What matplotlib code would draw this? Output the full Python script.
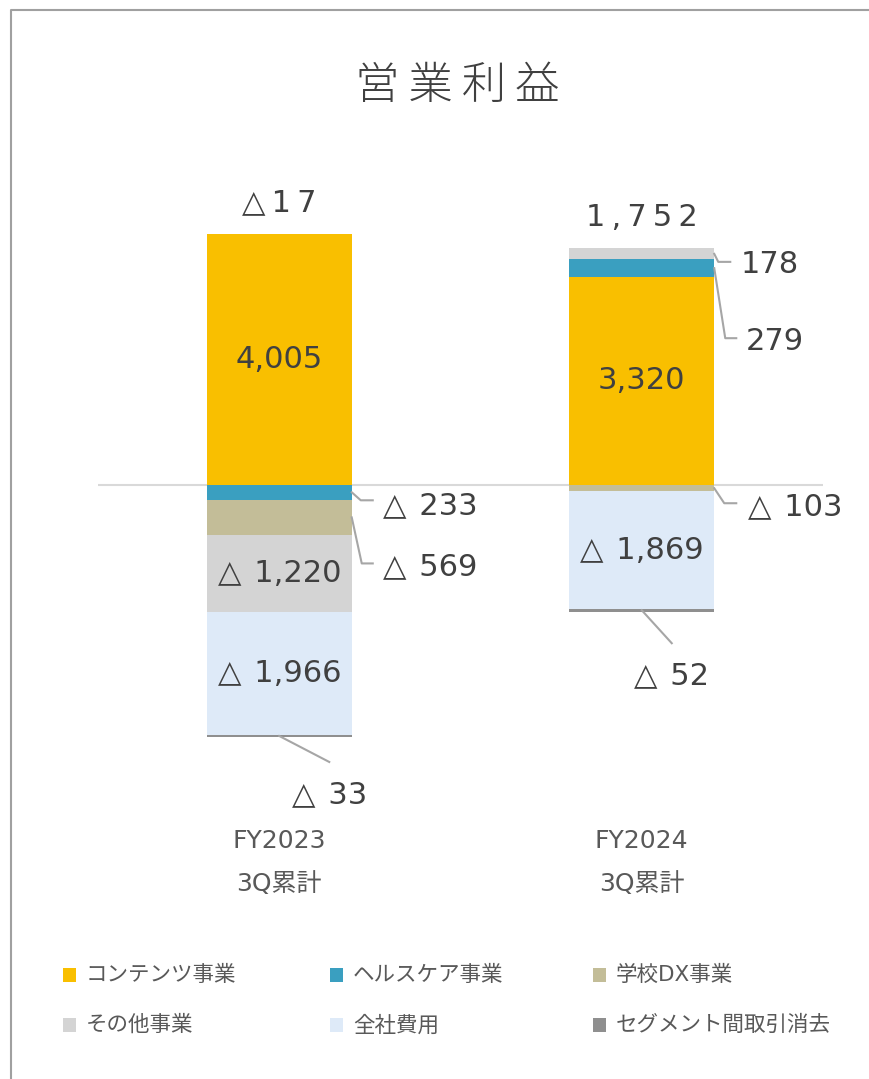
import matplotlib
matplotlib.use('Agg')
import matplotlib.pyplot as plt
from matplotlib.patches import Rectangle
from matplotlib.lines import Line2D
import matplotlib.transforms as mtransforms

plt.rcParams['font.family'] = ['DejaVu Sans', 'Noto Sans CJK JP']

# ---------------- data ----------------
categories = ['FY2023\n3Q累計', 'FY2024\n3Q累計']
series_names = ['コンテンツ事業', 'ヘルスケア事業', '学校DX事業',
                'その他事業', '全社費用', 'セグメント間取引消去']
contents = [4005, 3320]
healthcare = [-233, 279]
school_dx = [-569, -103]
other = [-1220, 178]
corporate = [-1966, -1869]
elimination = [-33, -52]
totals = [-17, 1752]
title = '営業利益'

series_values = [contents, healthcare, school_dx, other, corporate, elimination]
colors = ['#F9BF00', '#3A9FC0', '#C3BD98', '#D4D4D4', '#DEEAF8', '#8F8F8F']

# ---------------- layout ----------------
W, H = 869, 1079
fig = plt.figure(figsize=(W / 100, H / 100), dpi=100)
ID = mtransforms.IdentityTransform()

ax_left, ax_right, ax_top, ax_bot = 98, 823, 150, 800
zero_px = 485
units_per_px = 4005 / 251
ax = fig.add_axes([ax_left / W, 1 - ax_bot / H, (ax_right - ax_left) / W, (ax_bot - ax_top) / H])
ax.set_ylim(-(ax_bot - zero_px) * units_per_px, (zero_px - ax_top) * units_per_px)
ax.set_xlim(-0.5, 1.5)
ax.axis('off')
bar_w = 0.40

ax.axhline(0, color='#D9D9D9', lw=1.5, zorder=0)

TXT = '#404040'
FS = 22

# stacked bars
pos_bottom = [0.0, 0.0]
neg_bottom = [0.0, 0.0]
segments = {}
for s, (vals, col) in enumerate(zip(series_values, colors)):
    for i, v in enumerate(vals):
        if v >= 0:
            b = pos_bottom[i]
            pos_bottom[i] += v
        else:
            b = neg_bottom[i]
            neg_bottom[i] += v
        ax.bar(i, v, bottom=b, width=bar_w, color=col, linewidth=0, zorder=2)
        segments[(s, i)] = (b, b + v)


def fmt(v):
    return f'{v:,}' if v >= 0 else f'△\u200a {-v:,}'


# outside labels: (series, category) -> anchor side, elbow, end, text offset, ha
outside = {
    (1, 0): ('right', (9, 8), (21, 8), (31, 13), 'left'),
    (2, 0): ('right', (10, 46), (21, 46), (31, 49), 'left'),
    (3, 1): ('right', (4, 8), (16, 8), (26, 11), 'left'),
    (1, 1): ('right', (11, 70), (22, 70), (32, 73), 'left'),
    (2, 1): ('right', (10, 15), (22, 15), (34, 18), 'left'),
    (5, 0): ('bottom', None, (50, 26), (50, 59), 'center'),
    (5, 1): ('bottom', None, (30, 33), (30, 65), 'center'),
}

fig.canvas.draw()
for (s, i), (b, t) in segments.items():
    v = series_values[s][i]
    mid = (b + t) / 2
    if (s, i) in outside:
        side, elbow, end, toff, ha = outside[(s, i)]
        ax_x = i + bar_w / 2 if side == 'right' else i
        dx, dy = ax.transData.transform((ax_x, mid))
        pts = [(dx, dy)]
        if elbow is not None:
            pts.append((dx + elbow[0], dy - elbow[1]))
        pts.append((dx + end[0], dy - end[1]))
        fig.add_artist(Line2D([p[0] for p in pts], [p[1] for p in pts],
                              transform=ID, color='#A6A6A6', lw=1.5))
        fig.text(dx + toff[0], dy - toff[1], fmt(v), transform=ID,
                 ha=ha, va='center', fontsize=FS, color=TXT)
    else:
        ax.text(i, mid, fmt(v), ha='center', va='center', fontsize=FS, color=TXT, zorder=3)

# totals above bars (letter-spaced)
for i, tot in enumerate(totals):
    top = pos_bottom[i]
    s = fmt(tot).replace(' ', '').replace('\u200a', '')
    s = '\u2009'.join(list(s))
    dx, dy = ax.transData.transform((i, top))
    fig.text(dx, dy + 31, s, transform=ID, ha='center', va='center', fontsize=FS, color=TXT)

# category labels
for i, cat in enumerate(categories):
    dx, _ = ax.transData.transform((i, 0))
    for k, line in enumerate(cat.split('\n')):
        fig.text(dx, H - (841 + 43 * k), line, transform=ID, ha='center', va='center',
                 fontsize=18, color='#595959')

# title (letter-spaced)
fig.text(457, H - 87, '\u2009'.join(title), transform=ID, ha='center', va='center',
         fontsize=32, color=TXT, fontweight='light')

# legend
col_x = [63, 330, 593]
row_y = [975, 1025]
for k, (name, col) in enumerate(zip(series_names, colors)):
    r, c = divmod(k, 3)
    x0, y0 = col_x[c], row_y[r]
    fig.add_artist(Rectangle((x0, H - y0 - 7), 13, 14, transform=ID, color=col, lw=0))
    fig.text(x0 + 23, H - y0, name, transform=ID, ha='left', va='center',
             fontsize=15.5, color='#595959')

# border
fig.add_artist(Line2D([10.5, 10.5, W], [0, H - 9.5, H - 9.5], transform=ID,
                      color='#A0A0A0', lw=1.5))

fig.savefig('out.png', dpi=100)
